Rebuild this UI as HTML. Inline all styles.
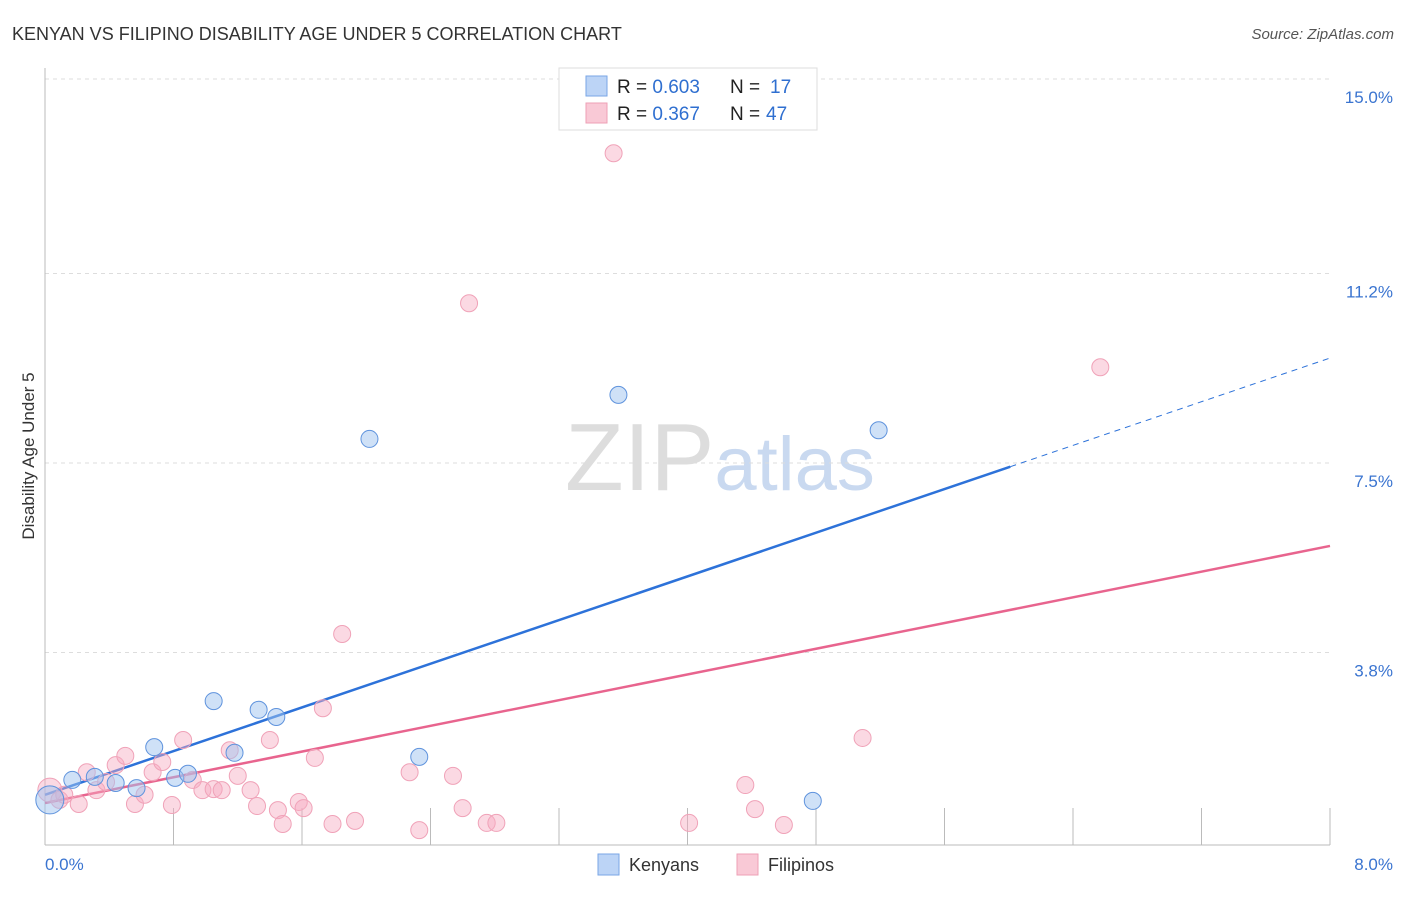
<!DOCTYPE html>
<html><head><meta charset="utf-8"><style>
body{margin:0;background:#fff;font-family:"Liberation Sans",sans-serif;}
svg text{font-family:"Liberation Sans",sans-serif;}
</style></head><body>
<svg id="chart" width="1406" height="892" viewBox="0 0 1406 892" xmlns="http://www.w3.org/2000/svg">
<text x="12" y="40" font-size="18" fill="#333">KENYAN VS FILIPINO DISABILITY AGE UNDER 5 CORRELATION CHART</text>
<text x="1394" y="39" font-size="15" fill="#555" font-style="italic" text-anchor="end">Source: ZipAtlas.com</text>
<text x="720" y="490" font-size="96" fill="#ddd" text-anchor="middle" font-family="Liberation Serif"><tspan>ZIP</tspan><tspan fill="#c9d9f0" font-family="Liberation Sans" font-size="76">atlas</tspan></text>
<text transform="translate(34,456) rotate(-90)" font-size="17" fill="#333" text-anchor="middle">Disability Age Under 5</text>
<g id="grid"></g><g id="axes"></g><g id="trends"></g><g id="points"></g>
<g>
<rect x="559" y="68" width="258" height="62" fill="#fff" stroke="#ddd"/>
<rect x="586" y="76" width="21" height="20" fill="#bcd4f6" stroke="#7aa6e6"/>
<rect x="586" y="103" width="21" height="20" fill="#f9c9d6" stroke="#eea0b6"/>
<text x="617" y="93" font-size="19" fill="#222">R = <tspan fill="#2f6fd0">0.603</tspan><tspan x="730">N = </tspan><tspan x="770" fill="#2f6fd0">17</tspan></text>
<text x="617" y="120" font-size="19" fill="#222">R = <tspan fill="#2f6fd0"> 0.367</tspan><tspan x="730">N = </tspan><tspan x="766" fill="#2f6fd0">47</tspan></text>
</g>
<g>
<rect x="598" y="854" width="21" height="21" fill="#bcd4f6" stroke="#7aa6e6"/>
<text x="629" y="871" font-size="18" fill="#333">Kenyans</text>
<rect x="737" y="854" width="21" height="21" fill="#f9c9d6" stroke="#eea0b6"/>
<text x="768" y="871" font-size="18" fill="#333">Filipinos</text>
</g>
</svg>
<script>
const yTicks=[15.0,11.2,7.5,3.8];
const yTickLabels=["15.0%","11.2%","7.5%","3.8%"];
const xTickLabels=["0.0%","8.0%"];
const kenyanX=[0.03,0.17,0.31,0.44,0.57,0.68,0.81,0.89,1.05,1.18,1.33,1.44,2.02,2.33,3.57,4.78,5.19];
const kenyanY=[0.92,1.31,1.37,1.25,1.15,1.95,1.35,1.43,2.85,1.84,2.68,2.54,7.97,1.76,8.83,0.90,8.14];
const filipinoX=[0.03,0.09,0.12,0.21,0.26,0.32,0.38,0.44,0.50,0.56,0.62,0.67,0.73,0.79,0.86,0.92,0.98,1.05,1.10,1.15,1.20,1.28,1.32,1.40,1.45,1.48,1.58,1.61,1.68,1.73,1.79,1.85,1.93,2.27,2.33,2.54,2.60,2.64,2.75,2.81,3.54,4.01,4.36,4.42,4.60,5.09,6.57];
const filipinoY=[1.11,0.92,1.02,0.84,1.46,1.11,1.27,1.60,1.78,0.84,1.02,1.46,1.66,0.82,2.09,1.31,1.11,1.13,1.11,1.89,1.39,1.11,0.80,2.09,0.72,0.45,0.88,0.76,1.74,2.71,0.45,4.16,0.51,1.46,0.33,1.39,0.76,10.62,0.47,0.47,13.55,0.47,1.21,0.74,0.43,2.13,9.37];
const kenyanTrend=[1.02,9.55];
const filipinoTrend=[0.86,5.88];
const ns="http://www.w3.org/2000/svg";
const X=v=>45+v/8*1285;
const Y=v=>847-v/3.75*192;
function mk(tag,attrs,parent){const e=document.createElementNS(ns,tag);for(const k in attrs)e.setAttribute(k,attrs[k]);document.getElementById(parent).appendChild(e);return e;}
yTicks.forEach((t,i)=>{
 const l=mk('line',{x1:45,x2:1330,y1:Y(t),y2:Y(t),stroke:'#ddd','stroke-dasharray':'4,4'},'grid');
 
 
 const tx=mk('text',{x:1393,y:Y(t)+24,'font-size':17,fill:'#3a74d0','text-anchor':'end'},'grid');
 tx.textContent=yTickLabels[i];
 
 
});
let a=mk('line',{x1:45,x2:45,y1:68,y2:845,stroke:'#bbb'},'axes');


a=mk('line',{x1:45,x2:1330,y1:845,y2:845,stroke:'#bbb'},'axes');


for(let i=1;i<=10;i++){const xv=i*0.8;
 const t=mk('line',{x1:X(xv),x2:X(xv),y1:808,y2:845,stroke:'#bbb'},'axes');
 
 }
[[0,45,'start'],[1,1393,'end']].forEach(([i,x,anc])=>{
 const t=mk('text',{x:x,y:870,'font-size':17,fill:'#3a74d0','text-anchor':anc},'axes');
 t.textContent=xTickLabels[i];
 
 });
const ky=v=>kenyanTrend[0]+(kenyanTrend[1]-kenyanTrend[0])*v/8;
let tl=mk('line',{x1:X(0),y1:Y(ky(0)),x2:X(6.01),y2:Y(ky(6.01)),stroke:'#2d72d9','stroke-width':2.5},'trends');


tl=mk('line',{x1:X(6.01),y1:Y(ky(6.01)),x2:X(8),y2:Y(ky(8)),stroke:'#2d72d9','stroke-width':1,'stroke-dasharray':'6,5'},'trends');


tl=mk('line',{x1:X(0),y1:Y(filipinoTrend[0]),x2:X(8),y2:Y(filipinoTrend[1]),stroke:'#e8648e','stroke-width':2.5},'trends');


filipinoX.forEach((x,i)=>{const c=mk('circle',{cx:X(x),cy:Y(filipinoY[i]),r:i==0?12:8.5,fill:'rgba(246,170,192,0.45)',stroke:'#f0a2b8','stroke-width':1},'points');
 
 });
kenyanX.forEach((x,i)=>{const c=mk('circle',{cx:X(x),cy:Y(kenyanY[i]),r:i==0?14:8.5,fill:'rgba(160,195,240,0.5)',stroke:'#5f93dd','stroke-width':1},'points');
 
 });
</script>
</body></html>
